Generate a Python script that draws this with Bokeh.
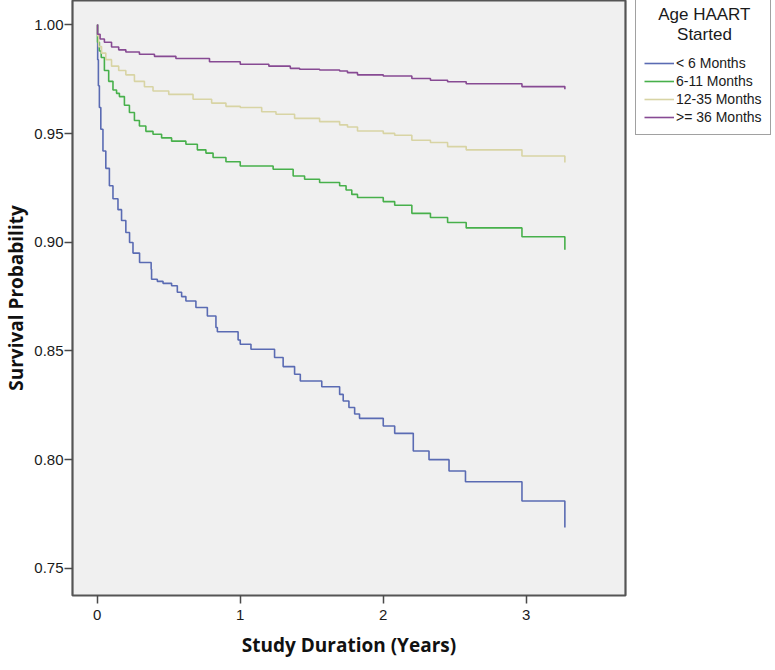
from bokeh.plotting import figure
from bokeh.models import Legend, LegendItem, Range1d, FixedTicker, NumeralTickFormatter
from bokeh.embed import file_html
from bokeh.resources import INLINE

NB = "\u00a0"
legend_title = NB * 3 + "Age HAART\n" + NB * 7 + "Started"
groups = ["< 6 Months", "6-11 Months", "12-35 Months", ">= 36 Months"]
colors = ["#5a6bb3", "#47b04b", "#d8d4a4", "#874a93"]

x_ticks = [0, 1, 2, 3]
y_ticks = [0.75, 0.80, 0.85, 0.90, 0.95, 1.00]

# Kaplan-Meier step curves (time in years, survival probability)
t_lt6 = [0, 0.003, 0.008, 0.015, 0.025, 0.04, 0.06, 0.085, 0.11, 0.145, 0.17, 0.2,
         0.226, 0.25, 0.296, 0.377, 0.38, 0.42, 0.46, 0.52, 0.56, 0.59, 0.62, 0.69,
         0.77, 0.83, 0.84, 0.985, 1.0, 1.075, 1.24, 1.3, 1.38, 1.42, 1.57, 1.695,
         1.72, 1.76, 1.8, 1.834, 2.0, 2.08, 2.21, 2.32, 2.46, 2.575, 2.97, 3.27]
s_lt6 = [1.0, 0.984, 0.972, 0.962, 0.952, 0.942, 0.934, 0.926, 0.92, 0.915, 0.91, 0.9045,
         0.8999, 0.895, 0.8907, 0.8876, 0.883, 0.882, 0.8811, 0.880, 0.877, 0.875, 0.873, 0.870,
         0.8661, 0.8608, 0.8588, 0.855, 0.8531, 0.8508, 0.847, 0.8428, 0.8393, 0.8362, 0.8335, 0.830,
         0.827, 0.824, 0.821, 0.819, 0.8155, 0.8121, 0.804, 0.800, 0.7948, 0.7898, 0.781, 0.7688]

t_6_11 = [0, 0.002, 0.015, 0.028, 0.05, 0.08, 0.11, 0.135, 0.155, 0.19, 0.225, 0.26,
          0.295, 0.34, 0.39, 0.45, 0.52, 0.62, 0.7, 0.76, 0.81, 0.9, 1.0, 1.23, 1.37,
          1.45, 1.555, 1.695, 1.74, 1.78, 1.82, 2.0, 2.08, 2.2, 2.33, 2.45, 2.58, 2.97, 3.27]
s_6_11 = [1.0, 0.992, 0.988, 0.985, 0.979, 0.974, 0.970, 0.9685, 0.967, 0.963, 0.9597, 0.956,
          0.9535, 0.951, 0.9497, 0.948, 0.9465, 0.9451, 0.9425, 0.941, 0.939, 0.937, 0.9351, 0.9336, 0.9305,
          0.929, 0.9275, 0.926, 0.924, 0.922, 0.9206, 0.9187, 0.917, 0.9133, 0.9114, 0.9091, 0.9066, 0.9025, 0.8965]

t_12_35 = [0, 0.002, 0.01, 0.03, 0.06, 0.1, 0.15, 0.2, 0.26, 0.33, 0.39, 0.5, 0.67,
           0.8, 0.9, 1.0, 1.15, 1.25, 1.38, 1.555, 1.695, 1.75, 1.82, 2.0, 2.08, 2.2,
           2.33, 2.45, 2.58, 2.97, 3.27]
s_12_35 = [1.0, 0.995, 0.99, 0.987, 0.984, 0.981, 0.979, 0.977, 0.974, 0.9715, 0.9696, 0.968, 0.9658,
           0.964, 0.9625, 0.962, 0.960, 0.9589, 0.957, 0.9555, 0.954, 0.953, 0.9512, 0.9501, 0.9492, 0.9469,
           0.9459, 0.944, 0.9425, 0.9397, 0.9367]

t_ge36 = [0, 0.002, 0.02, 0.05, 0.1, 0.15, 0.2, 0.295, 0.4, 0.55, 0.785, 1.0, 1.2,
          1.35, 1.415, 1.555, 1.695, 1.75, 1.82, 2.0, 2.2, 2.33, 2.45, 2.58, 2.97, 3.27]
s_ge36 = [1.0, 0.9957, 0.9935, 0.992, 0.9898, 0.9885, 0.9875, 0.9865, 0.9855, 0.9845, 0.983, 0.9819, 0.981,
          0.980, 0.9796, 0.9792, 0.9788, 0.978, 0.977, 0.9765, 0.9753, 0.9745, 0.9738, 0.9729, 0.9716, 0.9704]

series_t = [t_lt6, t_6_11, t_12_35, t_ge36]
series_s = [s_lt6, s_6_11, s_12_35, s_ge36]

FRAME_W = 553
FRAME_H = 595
LEGEND_H = 135

p = figure(frame_width=FRAME_W, frame_height=FRAME_H,
           x_range=Range1d(-0.173, 3.694), y_range=Range1d(0.7375, 1.0112),
           output_backend="svg", toolbar_location=None,
           min_border_left=0, min_border_top=0, min_border_bottom=0, min_border_right=141)

p.border_fill_color = "white"
p.background_fill_color = "#f0f0f0"
p.outline_line_color = "#555555"
p.outline_line_width = 2.2
p.grid.visible = False

renderers = []
for t, s, c in zip(series_t, series_s, colors):
    r = p.step(t, s, mode="after", line_color=c, line_width=1.6)
    renderers.append(r)

for ax in (p.xaxis[0], p.yaxis[0]):
    ax.axis_line_color = None
    ax.major_tick_line_color = "#4a4a4a"
    ax.major_tick_line_width = 1.5
    ax.major_tick_out = 8
    ax.major_tick_in = 0
    ax.minor_tick_line_color = None
    ax.major_label_text_font = "Liberation Sans"
    ax.major_label_text_font_size = "15px"
    ax.major_label_text_color = "#1a1a1a"
    ax.axis_label_text_font = "Open Sans"
    ax.axis_label_text_font_style = "bold"
    ax.axis_label_text_font_size = "19px"
    ax.axis_label_text_color = "#111111"

p.xaxis.ticker = FixedTicker(ticks=x_ticks)
p.yaxis.ticker = FixedTicker(ticks=y_ticks)
p.yaxis.formatter = NumeralTickFormatter(format="0.00")
p.xaxis.axis_label = "Study Duration (Years)"
p.yaxis.axis_label = "Survival Probability"
p.xaxis.major_label_standoff = 6
p.xaxis.axis_label_standoff = 9
p.yaxis.major_label_standoff = 1
p.yaxis.axis_label_standoff = 2

items = [LegendItem(label=g, renderers=[r]) for g, r in zip(groups, renderers)]
legend = Legend(items=items, location=(10, FRAME_H - LEGEND_H))
legend.title = legend_title
legend.title_text_font = "Liberation Sans"
legend.title_text_font_size = "17px"
legend.title_text_font_style = "normal"
legend.title_text_color = "#1a1a1a"
legend.title_standoff = 9
legend.label_text_font = "Liberation Sans"
legend.label_text_font_size = "14px"
legend.label_text_color = "#1a1a1a"
legend.glyph_width = 30
legend.glyph_height = 18
legend.label_height = 18
legend.label_standoff = 2
legend.spacing = 0
legend.padding = 8
legend.margin = 0
legend.border_line_color = "#444444"
legend.border_line_width = 1.5
legend.background_fill_color = "white"
legend.background_fill_alpha = 1.0
p.add_layout(legend, "right")

open("out.html", "w").write(file_html(p, INLINE))
